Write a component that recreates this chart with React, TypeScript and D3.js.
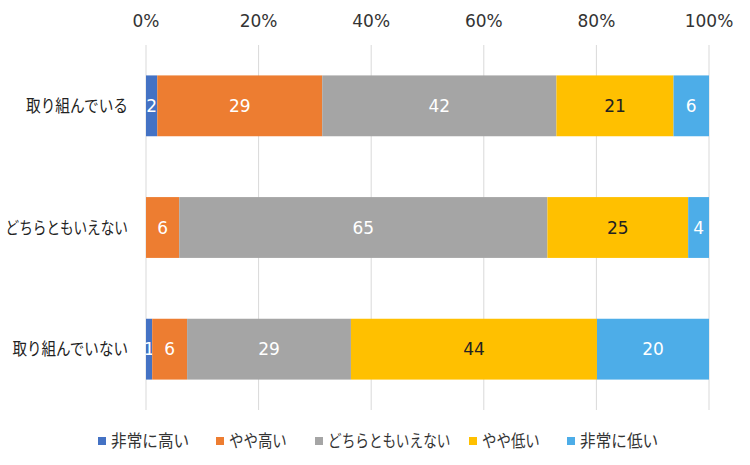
import * as d3 from "d3";

const categories = ["取り組んでいる", "どちらともいえない", "取り組んでいない"];
const seriesNames = ["非常に高い", "やや高い", "どちらともいえない", "やや低い", "非常に低い"];
const veryHigh = [2.0, 0, 1.1];
const slightlyHigh = [29.3, 5.9, 6.2];
const neutral = [41.6, 65.4, 29.1];
const slightlyLow = [20.8, 25.0, 43.7];
const veryLow = [6.3, 3.7, 19.9];
const tickValues = [0, 20, 40, 60, 80, 100];

const colors = ["#4472C4", "#ED7D31", "#A5A5A5", "#FFC000", "#4DADE8"];
const labelColors = ["#fff", "#fff", "#fff", "#222", "#fff"];
const jpFont = "'Noto Sans CJK JP', sans-serif";
const numFont = "'DejaVu Sans', Verdana, sans-serif";

// rough Meiryo-like width: kana are narrower than kanji
const jpWidth = (s: string, size: number) =>
  Array.from(s).reduce((acc, ch) => acc + (/[\u3040-\u30ff]/.test(ch) ? 0.8 : 1.0) * size, 0);

export default function App() {
  const width = 750;
  const height = 465;
  const series = [veryHigh, slightlyHigh, neutral, slightlyLow, veryLow];

  const x = d3.scaleLinear().domain([0, 100]).range([146, 709]);
  const y = d3.scaleBand().domain(categories).range([45, 410]).paddingInner(0.5).paddingOuter(0.25);

  const rows = categories.map((c, i) => {
    const obj: Record<string, any> = { cat: c };
    seriesNames.forEach((s, j) => (obj[s] = series[j][i]));
    return obj;
  });
  const stacked = d3.stack<any>().keys(seriesNames)(rows);

  const legendX = [98, 216, 315, 469, 567];

  return (
    <svg width={width} height={height} style={{ position: "absolute", left: 0, top: 0 }}>
      <rect width={width} height={height} fill="#fff" />
      {tickValues.map((t) => (
        <g key={t}>
          <line x1={x(t)} x2={x(t)} y1={45} y2={410} stroke="#d9d9d9" strokeWidth={1} />
          <text x={x(t)} y={27} textAnchor="middle" fontFamily={numFont} fontSize={17} fill="#333">
            {t}%
          </text>
        </g>
      ))}
      {stacked.map((layer, j) => (
        <g key={seriesNames[j]}>
          {layer.map((d, i) => {
            const w = x(d[1]) - x(d[0]);
            if (w <= 0) return null;
            const val = series[j][i];
            return (
              <g key={i}>
                <rect x={x(d[0])} y={y(categories[i])} width={w} height={y.bandwidth()} fill={colors[j]} />
                <text
                  x={(x(d[0]) + x(d[1])) / 2}
                  y={y(categories[i])! + y.bandwidth() / 2}
                  dy="0.36em"
                  textAnchor="middle"
                  fontFamily={numFont}
                  fontSize={17}
                  fill={labelColors[j]}
                >
                  {Math.round(val)}
                </text>
              </g>
            );
          })}
        </g>
      ))}
      {categories.map((c) => (
        <text
          key={c}
          x={128}
          y={y(c)! + y.bandwidth() / 2}
          dy="0.36em"
          textAnchor="end"
          fontFamily={jpFont}
          fontSize={17}
          fill="#222"
          textLength={jpWidth(c, 17)}
          lengthAdjust="spacingAndGlyphs"
        >
          {c}
        </text>
      ))}
      {seriesNames.map((s, j) => (
        <g key={s} transform={`translate(${legendX[j]},441)`}>
          <rect x={0} y={-4} width={8} height={8} fill={colors[j]} />
          <text
            x={13}
            y={0}
            dy="0.36em"
            fontFamily={jpFont}
            fontSize={17}
            fill="#333"
            textLength={jpWidth(s, 17)}
            lengthAdjust="spacingAndGlyphs"
          >
            {s}
          </text>
        </g>
      ))}
    </svg>
  );
}
